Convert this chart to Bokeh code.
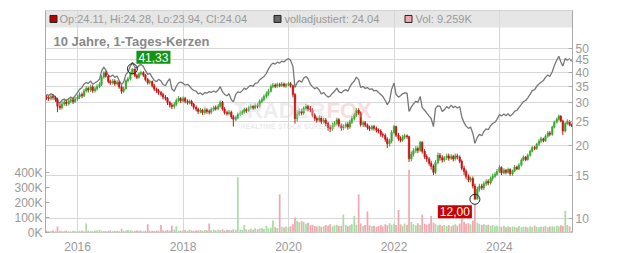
import math
import pandas as pd
from bokeh.plotting import figure
from bokeh.models import (Range1d, LinearAxis, LinearScale, FixedTicker, PrintfTickFormatter,
                          DatetimeTickFormatter, Label, BoxAnnotation, ColumnDataSource)
from bokeh.embed import file_html
from bokeh.resources import INLINE

# ---------------- data (semi-monthly samples) ----------------
start_date = "2015-06-01"
n_points = 240

closes = [
    31.4, 31.2, 31.8, 31.5, 30.9, 29.0, 28.6, 29.6, 30.2, 29.7, 30.4, 30.8,
    30.3, 31.0, 31.6, 32.4, 32.0, 33.5, 34.3, 33.8, 34.8, 33.6, 34.2, 34.9,
    35.6, 38.2, 39.8, 38.5, 36.6, 36.1, 36.8, 35.8, 36.4, 34.8, 33.4, 34.2,
    36.9, 37.6, 39.6, 41.33, 38.7, 38.1, 39.4, 39.9, 38.9, 37.3, 36.2, 36.6,
    35.2, 34.1, 33.6, 33.0, 32.4, 31.6, 31.2, 30.0, 29.3, 28.9, 29.5, 30.6,
    31.2, 30.5, 31.2, 30.4, 30.0, 30.3, 29.6, 28.7, 28.2, 27.6, 27.9, 27.3,
    28.0, 27.6, 27.4, 28.1, 28.6, 28.3, 29.0, 30.1, 28.2, 27.3, 27.0, 27.4,
    26.2, 25.6, 26.0, 26.8, 27.2, 27.5, 28.1, 27.8, 28.6, 28.9, 28.5, 29.2,
    29.0, 30.3, 30.9, 31.8, 32.6, 33.4, 34.9, 35.4, 35.0, 35.6, 35.3, 35.8,
    35.1, 35.6, 35.9, 35.2, 32.4, 25.8, 27.0, 27.6, 27.2, 28.4, 28.9, 28.3,
    28.0, 26.6, 25.8, 25.4, 25.9, 25.1, 25.4, 24.6, 23.7, 23.4, 24.2, 24.6,
    25.5, 24.1, 23.6, 23.9, 24.4, 23.8, 24.9, 25.8, 26.6, 27.9, 27.2, 24.4,
    24.8, 24.2, 23.7, 23.4, 23.9, 23.5, 23.1, 22.9, 22.2, 22.0, 21.2, 20.3,
    20.8, 22.6, 23.9, 22.0, 21.3, 21.0, 21.6, 21.9, 21.7, 17.6, 18.4, 19.0,
    19.4, 19.1, 20.6, 18.9, 18.0, 17.6, 16.9, 16.4, 15.5, 17.0, 18.2, 17.8,
    17.4, 17.8, 18.1, 17.7, 18.0, 17.6, 18.1, 17.9, 17.2, 16.1, 15.6, 14.9,
    14.4, 14.6, 13.6, 12.0, 13.2, 13.6, 13.4, 13.9, 14.2, 14.0, 14.6, 14.9,
    15.2, 15.6, 16.2, 15.4, 15.8, 15.5, 15.9, 15.3, 15.7, 16.3, 16.0, 16.6,
    17.4, 17.9, 17.5, 18.2, 18.9, 19.6, 19.4, 20.2, 20.8, 21.3, 20.9, 21.8,
    22.5, 22.2, 23.8, 24.9, 25.6, 26.4, 25.2, 22.9, 24.6, 25.1, 24.3, 24.04,
]
first_open = 31.6

highs = [
    32.3, 32.0, 32.4, 32.5, 32.0, 31.4, 29.8, 30.4, 30.9, 30.8, 31.1, 31.5,
    31.4, 31.7, 32.3, 33.1, 33.0, 34.2, 35.1, 34.9, 35.6, 35.4, 34.9, 35.7,
    36.4, 38.9, 40.4, 40.5, 38.9, 37.3, 37.5, 37.4, 37.1, 36.9, 35.4, 34.9,
    37.4, 38.3, 40.2, 41.33, 41.0, 39.3, 40.0, 40.6, 40.4, 39.4, 37.9, 37.3,
    37.0, 35.8, 34.6, 34.2, 33.5, 32.9, 32.2, 31.6, 30.5, 29.9, 30.2, 31.2,
    31.9, 31.6, 31.8, 31.7, 30.9, 30.9, 30.8, 29.9, 29.2, 28.6, 28.5, 28.3,
    28.6, 28.4, 28.1, 28.7, 29.1, 29.2, 29.6, 30.6, 30.5, 28.7, 27.8, 28.0,
    27.8, 26.7, 26.5, 27.3, 27.8, 28.0, 28.6, 28.6, 29.1, 29.5, 29.3, 29.8,
    29.8, 30.9, 31.5, 32.4, 33.3, 34.2, 35.6, 36.1, 36.0, 36.3, 36.2, 36.5,
    36.3, 36.1, 36.5, 36.4, 35.6, 32.8, 27.9, 28.4, 28.3, 28.9, 29.6, 29.4,
    29.0, 28.5, 27.1, 26.3, 26.6, 26.4, 26.0, 25.9, 25.0, 24.3, 24.8, 25.2,
    26.0, 25.9, 24.6, 24.5, 24.9, 24.9, 25.5, 26.4, 27.2, 28.5, 28.4, 27.6,
    25.3, 25.2, 24.6, 24.1, 24.3, 24.3, 23.9, 23.5, 23.3, 22.6, 22.4, 21.6,
    21.3, 23.1, 24.3, 24.1, 22.5, 21.8, 22.1, 22.3, 22.2, 21.9, 18.9, 19.5,
    19.9, 19.8, 20.9, 20.8, 19.3, 18.4, 17.9, 17.3, 16.7, 17.4, 18.7, 18.6,
    18.2, 18.1, 18.5, 18.5, 18.4, 18.3, 18.5, 18.5, 18.2, 17.5, 16.5, 15.9,
    15.2, 14.9, 14.9, 13.9, 13.5, 13.9, 13.9, 14.2, 14.5, 14.5, 14.9, 15.3,
    15.5, 16.0, 16.6, 16.4, 16.1, 16.0, 16.2, 16.1, 15.9, 16.6, 16.5, 16.9,
    17.7, 18.2, 18.1, 18.5, 19.2, 19.9, 19.9, 20.5, 21.2, 21.7, 21.5, 22.2,
    22.9, 22.9, 24.1, 25.3, 26.0, 26.8, 26.6, 25.5, 24.9, 25.6, 25.4, 24.6,
]

lows = [
    30.7, 30.5, 30.6, 30.8, 30.2, 27.4, 28.0, 28.1, 29.1, 29.0, 29.2, 29.9,
    29.6, 29.9, 30.5, 31.0, 31.3, 31.6, 33.0, 33.0, 33.2, 32.9, 33.0, 33.6,
    34.4, 35.1, 37.6, 38.0, 36.0, 35.5, 35.6, 35.2, 35.3, 34.2, 32.6, 32.9,
    33.9, 36.3, 37.0, 39.1, 38.1, 37.5, 37.6, 38.8, 38.3, 36.7, 35.6, 35.6,
    34.6, 33.5, 32.9, 32.3, 31.8, 30.9, 30.6, 29.3, 28.6, 28.2, 28.3, 29.0,
    30.1, 29.9, 30.0, 29.8, 29.4, 29.5, 29.0, 28.1, 27.6, 26.9, 27.1, 26.7,
    26.8, 27.0, 26.8, 26.9, 27.6, 27.8, 27.9, 28.6, 27.8, 26.8, 26.5, 26.6,
    25.7, 23.9, 25.2, 25.6, 26.4, 26.7, 27.0, 27.2, 27.4, 28.1, 28.0, 28.1,
    28.4, 28.6, 29.8, 30.4, 31.2, 32.0, 33.0, 34.4, 34.4, 34.5, 34.7, 34.8,
    34.6, 34.5, 35.0, 34.6, 31.5, 24.6, 25.1, 26.4, 26.6, 26.7, 27.8, 27.6,
    27.4, 26.1, 25.2, 24.8, 24.9, 24.5, 24.6, 24.0, 23.0, 22.7, 23.0, 23.8,
    24.1, 23.7, 23.0, 23.1, 23.5, 23.2, 23.4, 24.5, 25.3, 26.2, 26.7, 23.9,
    23.8, 23.8, 23.2, 22.9, 23.0, 23.0, 22.6, 22.4, 21.7, 21.5, 20.7, 19.5,
    19.8, 20.4, 22.2, 21.6, 20.9, 20.6, 20.7, 21.2, 21.3, 17.1, 17.2, 18.0,
    18.6, 18.6, 18.8, 18.5, 17.6, 17.1, 16.5, 15.9, 15.1, 15.2, 16.7, 17.3,
    17.0, 17.1, 17.4, 17.3, 17.4, 17.2, 17.3, 17.5, 16.9, 15.8, 15.1, 14.5,
    14.1, 14.1, 13.3, 12.0, 12.0, 12.9, 13.1, 13.1, 13.6, 13.7, 13.8, 14.3,
    14.7, 15.0, 15.4, 15.1, 15.2, 15.2, 15.3, 15.0, 15.0, 15.5, 15.8, 15.8,
    16.4, 17.2, 17.2, 17.3, 18.0, 18.7, 19.1, 19.2, 19.9, 20.5, 20.6, 20.7,
    21.5, 21.8, 21.9, 23.5, 24.6, 25.3, 24.9, 22.1, 22.6, 24.3, 24.0, 23.8,
]

adjusted = [
    32.4, 32.1, 32.6, 32.3, 31.6, 30.2, 29.9, 30.7, 31.0, 30.6, 31.2, 31.6,
    31.2, 32.0, 33.0, 34.0, 34.6, 35.8, 36.3, 35.9, 36.8, 35.7, 36.2, 36.6,
    37.4, 40.4, 42.0, 40.8, 38.9, 38.3, 39.0, 38.1, 38.6, 37.0, 35.6, 36.4,
    39.2, 40.0, 42.4, 44.0, 42.0, 41.6, 42.6, 43.1, 42.2, 40.6, 39.2, 39.6,
    38.1, 37.0, 36.6, 37.4, 36.8, 35.6, 35.2, 36.6, 37.6, 34.2, 33.4, 35.0,
    36.2, 36.4, 36.0, 35.4, 35.7, 35.0, 34.2, 33.7, 33.4, 32.6, 32.9, 32.3,
    33.0, 32.8, 33.3, 33.0, 33.5, 33.1, 33.8, 34.9, 33.2, 32.4, 32.0, 32.6,
    30.8, 30.2, 32.4, 33.2, 33.0, 33.6, 34.4, 34.0, 34.9, 35.3, 35.0, 36.0,
    36.2, 37.2, 37.9, 38.4, 39.6, 41.2, 42.8, 43.6, 43.2, 44.0, 43.6, 44.4,
    44.1, 44.9, 45.5, 44.8, 42.2, 34.6, 36.2, 37.0, 36.4, 37.8, 38.4, 37.6,
    35.6, 34.9, 34.2, 34.6, 33.8, 32.6, 33.0, 32.2, 31.6, 31.9, 32.8, 33.4,
    34.4, 33.2, 32.9, 33.5, 33.9, 33.4, 34.8, 35.9, 36.8, 38.2, 37.3, 34.6,
    35.0, 34.3, 34.6, 34.0, 34.2, 33.5, 33.7, 33.0, 32.4, 31.8, 30.6, 29.4,
    30.5, 34.0, 36.1, 32.4, 31.6, 32.0, 32.6, 32.9, 32.8, 27.6, 28.8, 29.6,
    30.4, 30.0, 31.8, 28.6, 27.9, 27.2, 26.4, 25.8, 23.9, 28.4, 29.1, 29.0,
    27.6, 28.0, 28.9, 28.4, 29.3, 28.6, 29.0, 28.5, 28.9, 26.2, 24.8, 24.0,
    23.5, 23.8, 22.4, 20.4, 21.6, 22.2, 21.9, 22.8, 23.4, 23.2, 24.1, 24.6,
    24.9, 25.6, 26.8, 26.4, 26.9, 26.5, 27.0, 26.4, 26.9, 27.6, 27.9, 28.6,
    29.5, 30.3, 30.6, 31.4, 32.5, 33.6, 33.9, 35.0, 35.8, 36.4, 37.0, 38.1,
    39.0, 38.4, 40.2, 42.6, 44.8, 46.5, 44.2, 42.4, 45.6, 44.8, 45.4, 44.3,
]

volume_k = [
    12, 8, 10, 14, 9, 40, 11, 8, 10, 13, 9, 7,
    11, 9, 10, 12, 14, 9, 60, 11, 10, 8, 13, 15,
    18, 12, 10, 9, 11, 14, 8, 10, 12, 9, 25, 11,
    13, 16, 15, 12, 10, 13, 11, 14, 9, 12, 55, 13,
    11, 10, 14, 12, 50, 15, 11, 16, 12, 45, 18, 42,
    12, 14, 13, 16, 12, 18, 14, 11, 15, 13, 17, 12,
    16, 14, 60, 15, 18, 13, 20, 16, 22, 14, 19, 17,
    15, 21, 18, 370, 20, 16, 50, 22, 18, 25, 19, 28,
    22, 26, 30, 24, 45, 28, 32, 80, 35, 30, 255, 38,
    33, 40, 36, 42, 55, 100, 78, 70, 75, 72, 58, 65,
    48, 52, 44, 40, 46, 38, 42, 50, 45, 55, 40, 48,
    52, 44, 46, 120, 50, 42, 48, 55, 110, 52, 255, 60,
    45, 50, 140, 48, 42, 46, 38, 44, 50, 40, 55, 48,
    62, 52, 58, 50, 150, 55, 45, 60, 52, 420, 70, 55,
    48, 62, 50, 120, 58, 52, 60, 110, 65, 55, 48, 52,
    45, 50, 44, 50, 42, 48, 55, 46, 60, 175, 70, 58,
    62, 55, 80, 190, 65, 58, 50, 55, 48, 52, 45, 50,
    42, 46, 40, 38, 45, 36, 42, 35, 40, 38, 33, 44,
    36, 40, 38, 34, 42, 37, 45, 39, 35, 41, 38, 43,
    36, 40, 42, 38, 45, 40, 48, 44, 145, 50, 42, 9.259,
]

year_ticks = [2016, 2018, 2020, 2022, 2024]
price_ticks = [10, 15, 20, 25, 30, 35, 40, 45, 50]
volume_ticks_k = [0, 100, 200, 300, 400]

legend_ohlc = "Op:24.11, Hi:24.28, Lo:23.94, Cl:24.04"
legend_adj = "volladjustiert: 24.04"
legend_vol = "Vol: 9.259K"
title_text = "10 Jahre, 1-Tages-Kerzen"

# ---------------- build ----------------
dates = pd.date_range(start_date, periods=n_points, freq="SMS")
opens = [first_open] + closes[:-1]
UP, DOWN = "#3aa832", "#c81414"
VUP, VDOWN = "#a8dca2", "#f2a6ae"
colors = [UP if c >= o else DOWN for o, c in zip(opens, closes)]
vcolors = [VUP if c >= o else VDOWN for o, c in zip(opens, closes)]

src = ColumnDataSource(dict(
    date=dates, open=opens, close=closes, high=highs, low=lows,
    top=[max(o, c) for o, c in zip(opens, closes)],
    bottom=[min(o, c) for o, c in zip(opens, closes)],
    color=colors, vcolor=vcolors, adj=adjusted, vol=volume_k,
))

def ms(t):
    return pd.Timestamp(t).value / 1e6

X0, X1 = ms("2015-05-24"), ms("2025-05-21")
YMIN, YMAX = 8.76, 71.8
L, R, T, B = 45, 572, 10, 233

def px(xp):
    return X0 + (xp - L) / (R - L) * (X1 - X0)

def py(yp):
    lo, hi = math.log10(YMIN), math.log10(YMAX)
    return 10 ** (lo + (B - yp) / (B - T) * (hi - lo))

FONT = "Liberation Sans"
p = figure(width=632, height=253, x_axis_type="datetime", y_axis_type="log",
           y_axis_location="right", x_range=Range1d(X0, X1), y_range=Range1d(YMIN, YMAX),
           output_backend="svg", toolbar_location=None,
           min_border_left=L, min_border_right=632 - R, min_border_top=T, min_border_bottom=253 - B)
p.background_fill_color = "white"
p.border_fill_color = "white"
p.outline_line_color = "#cccccc"
p.extra_y_ranges = {"vol": Range1d(0, 1487)}
p.extra_y_scales = {"vol": LinearScale()}

# legend band
p.add_layout(BoxAnnotation(bottom=py(27), top=YMAX, fill_color="#e6e6e6", fill_alpha=1.0,
                           line_color=None, level="image"))

# grids
yt = [ms(f"{y}-01-01") for y in year_ticks]
p.xgrid.ticker = FixedTicker(ticks=yt)
p.ygrid.ticker = FixedTicker(ticks=price_ticks)
p.xgrid.grid_line_color = "#d8d8d8"
p.ygrid.grid_line_color = "#d8d8d8"

# axes
xa = p.xaxis[0]
xa.ticker = FixedTicker(ticks=yt)
xa.formatter = DatetimeTickFormatter(years="%Y", months="%Y", days="%Y")
xa.axis_line_color = None
xa.major_tick_line_color = None
xa.minor_tick_line_color = None
xa.major_label_standoff = 3
xa.major_label_text_color = "#999999"
xa.major_label_text_font_size = "12px"
xa.major_label_text_font = FONT

ra = p.right[0]
ra.ticker = FixedTicker(ticks=price_ticks)
ra.formatter = PrintfTickFormatter(format="%d")
ra.axis_line_color = "#aaaaaa"
ra.major_tick_in = 4
ra.major_tick_out = 0
ra.major_tick_line_color = "#aaaaaa"
ra.minor_tick_line_color = None
ra.major_label_standoff = 3
ra.major_label_text_color = "#999999"
ra.major_label_text_font_size = "12px"
ra.major_label_text_font = FONT

la = LinearAxis(y_range_name="vol", ticker=FixedTicker(ticks=volume_ticks_k),
                formatter=PrintfTickFormatter(format="%dK"))
la.axis_line_color = "#aaaaaa"
la.major_tick_in = 4
la.major_tick_out = 0
la.major_tick_line_color = "#aaaaaa"
la.minor_tick_line_color = None
la.major_label_standoff = 3
la.major_label_text_color = "#999999"
la.major_label_text_font_size = "12px"
la.major_label_text_font = FONT
p.add_layout(la, "left")

DAY = 86400000
# volume
p.vbar(x="date", width=12 * DAY, top="vol", bottom=0, y_range_name="vol",
       fill_color="vcolor", line_color=None, source=src)

# watermark
p.add_layout(Label(x=px(233), y=py(123), text="TRADER", text_font=FONT, text_font_style="bold",
                   text_font_size="22px", text_color="#d8d8d8", text_alpha=0.45))
p.add_layout(Label(x=px(326), y=py(123), text="FOX", text_font=FONT, text_font_style="bold",
                   text_font_size="22px", text_color="#f2a0aa", text_alpha=0.4))
p.add_layout(Label(x=px(240), y=py(130), text="REALTIME STOCK SCREENING", text_font=FONT,
                   text_font_style="bold", text_font_size="7px", text_color="#d8d8d8",
                   text_alpha=0.5))

# adjusted line
p.line(x="date", y="adj", line_color="#777777", line_width=1.3, source=src)

# candles: wicks + bodies
p.segment(x0="date", y0="low", x1="date", y1="high", line_color="color", line_width=1, source=src)
p.vbar(x="date", width=11 * DAY, top="top", bottom="bottom", fill_color="color",
       line_color="color", line_width=0.5, source=src)

# max / min markers
imax = max(range(len(closes)), key=lambda i: closes[i])
imin = min(range(len(closes)), key=lambda i: closes[i])
p.scatter(x=[dates[imax], dates[imin]], y=[closes[imax], closes[imin]], marker="circle",
          size=10, fill_color=None, line_color="#222222", line_width=1)
p.add_layout(Label(x=ms(dates[imax]), y=closes[imax], x_offset=4, y_offset=5,
                   text=f"{closes[imax]:.2f}".replace(".", ","), text_align="left",
                   text_baseline="bottom", text_font=FONT, text_font_size="12px",
                   text_color="white", background_fill_color="#149414", padding=2))
p.add_layout(Label(x=ms(dates[imin]), y=closes[imin], x_offset=-3, y_offset=-6,
                   text=f"{closes[imin]:.2f}".replace(".", ","), text_align="right",
                   text_baseline="top", text_font=FONT, text_font_size="12px",
                   text_color="white", background_fill_color="#cc0000", padding=2))

# legend band contents
p.scatter(x=[px(53), px(277), px(408)], y=[py(18.5)] * 3, marker="square", size=7,
          fill_color=["#c00000", "#666666", "#f2a6ae"], line_color="#222222", line_width=1)
for xx, t in ((59, legend_ohlc), (284, legend_adj), (415, legend_vol)):
    p.add_layout(Label(x=px(xx), y=py(18.5), text=t, text_baseline="middle",
                       text_font=FONT, text_font_size="11px", text_color="#999999"))
p.add_layout(Label(x=px(53), y=py(41), text=title_text, text_baseline="middle",
                   text_font=FONT, text_font_style="bold", text_font_size="13px",
                   text_color="#888888"))

open("out.html", "w").write(file_html(p, INLINE))
